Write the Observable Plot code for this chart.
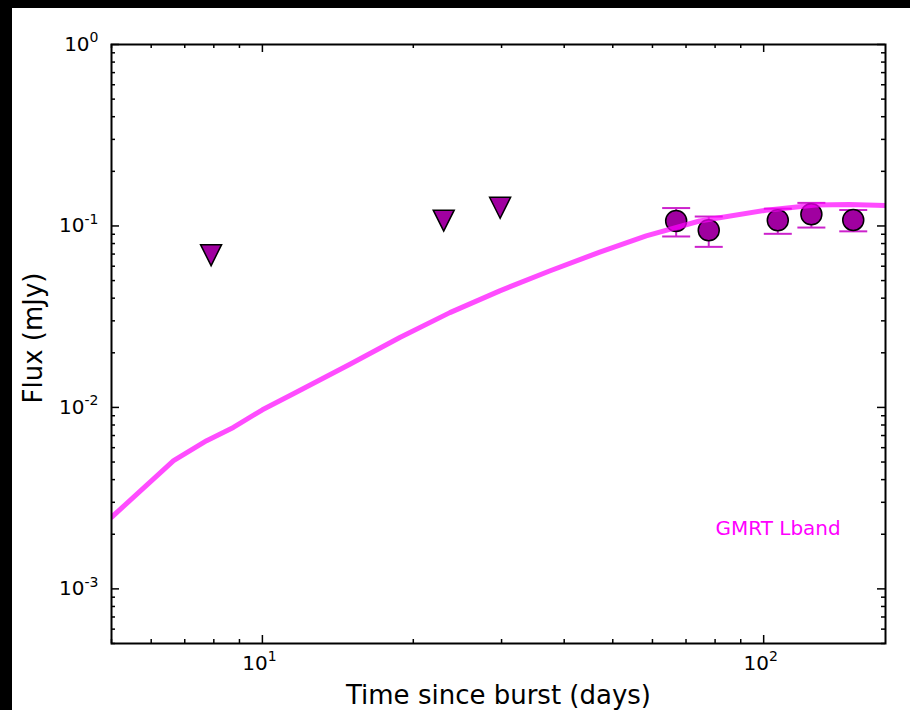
<!DOCTYPE html>
<html><head><meta charset="utf-8">
<script src="https://cdn.jsdelivr.net/npm/d3@7"></script>
<script src="https://cdn.jsdelivr.net/npm/@observablehq/plot@0.6"></script>
<style>
html,body{margin:0;padding:0;background:#000;width:910px;height:710px;overflow:hidden}
#chart{position:absolute;left:12px;top:8px;width:898px;height:702px;background:#fff}
svg{font-family:"DejaVu Sans",sans-serif}
</style></head><body><div id="chart"></div>
<script>
// Model light curve (GMRT L band)
const modelTime = [5, 6.65, 7.74, 8.75, 10, 11.53, 14.95, 18.8, 23.66, 29.76, 37.4, 47.1, 58.3, 74.5, 101, 127, 148, 175];
const modelFlux = [0.00248, 0.00509, 0.00656, 0.00776, 0.0097, 0.0119, 0.0173, 0.0243, 0.0333, 0.0439, 0.0565, 0.0718, 0.0881, 0.1065, 0.122, 0.1305, 0.1315, 0.1298];
// Detections
const detTime = [66.9, 77.7, 106.7, 124.5, 150.9];
const detFlux = [0.1065, 0.0947, 0.1075, 0.116, 0.1079];
const detErr  = [0.019, 0.018, 0.017, 0.018, 0.0145];
// Upper limits
const limTime = [7.9, 23, 29.8];
const limFlux = [0.069, 0.107, 0.126];
// Ticks
const xMajor = [10, 100];
const xMinor = [5, 6, 7, 8, 9, 20, 30, 40, 50, 60, 70, 80, 90];
const yMajor = [1, 0.1, 0.01, 0.001];
const yMinor = [0.0005, 0.0006, 0.0007, 0.0008, 0.0009,
  0.002, 0.003, 0.004, 0.005, 0.006, 0.007, 0.008, 0.009,
  0.02, 0.03, 0.04, 0.05, 0.06, 0.07, 0.08, 0.09,
  0.2, 0.3, 0.4, 0.5, 0.6, 0.7, 0.8, 0.9];
const labelText = "GMRT Lband";
const xTitle = "Time since burst (days)";
const yTitle = "Flux (mJy)";

const model = modelTime.map((t, i) => ({t, f: modelFlux[i]}));
const det = detTime.map((t, i) => ({t, f: detFlux[i], lo: detFlux[i] - detErr[i], hi: detFlux[i] + detErr[i]}));
const lim = limTime.map((t, i) => ({t, f: limFlux[i]}));

const W = 898, H = 702, mL = 99, mR = 25, mT = 36, mB = 67;
const iw = W - mL - mR, ih = H - mT - mB;

const triDown = {draw(ctx, size) { const s = Math.sqrt(size / Math.PI); ctx.moveTo(0, s); ctx.lineTo(-s, -s); ctx.lineTo(s, -s); ctx.closePath(); }};
const hbar = {draw(ctx, size) { const s = Math.sqrt(size / Math.PI); ctx.moveTo(-s, 0); ctx.lineTo(s, 0); }};

const errColor = "#cc22cc";
const fillColor = "#a000a0";

const svg = Plot.plot({
  width: W, height: H,
  marginLeft: mL, marginRight: mR, marginTop: mT, marginBottom: mB,
  style: {fontFamily: "'DejaVu Sans', sans-serif", background: "white", color: "black"},
  x: {type: "log", domain: [5, 175], axis: null},
  y: {type: "log", domain: [0.0005, 1], axis: null},
  marks: [
    Plot.ruleX(det, {x: "t", y1: "lo", y2: "hi", stroke: errColor, strokeWidth: 2}),
    Plot.dot(det, {x: "t", y: "lo", symbol: hbar, r: 14, stroke: errColor, strokeWidth: 2, fill: "none"}),
    Plot.dot(det, {x: "t", y: "hi", symbol: hbar, r: 14, stroke: errColor, strokeWidth: 2, fill: "none"}),
    Plot.dot(det, {x: "t", y: "f", r: 10.5, fill: fillColor, stroke: "black", strokeWidth: 1.5}),
    Plot.dot(lim, {x: "t", y: "f", symbol: triDown, r: 10.5, fill: fillColor, stroke: "black", strokeWidth: 1.5}),
    Plot.line(model, {x: "t", y: "f", stroke: "#ff00ff", strokeOpacity: 0.7, strokeWidth: 5, clip: true}),
    Plot.frame({stroke: "black", strokeWidth: 2}),
    // bottom ticks
    Plot.tickX(xMajor, {x: d => d, insetTop: ih - 8, stroke: "black", strokeWidth: 1.5}),
    Plot.tickX(xMinor, {x: d => d, insetTop: ih - 4, stroke: "black", strokeWidth: 1.5}),
    // top ticks
    Plot.tickX(xMajor, {x: d => d, insetBottom: ih - 8, stroke: "black", strokeWidth: 1.5}),
    Plot.tickX(xMinor, {x: d => d, insetBottom: ih - 4, stroke: "black", strokeWidth: 1.5}),
    // left ticks
    Plot.tickY(yMajor, {y: d => d, insetRight: iw - 8, stroke: "black", strokeWidth: 1.5}),
    Plot.tickY(yMinor, {y: d => d, insetRight: iw - 4, stroke: "black", strokeWidth: 1.5}),
    // right ticks
    Plot.tickY(yMajor, {y: d => d, insetLeft: iw - 8, stroke: "black", strokeWidth: 1.5}),
    Plot.tickY(yMinor, {y: d => d, insetLeft: iw - 4, stroke: "black", strokeWidth: 1.5}),
    // tick labels
    Plot.text(xMajor, {x: d => d, text: d => "10^" + Math.round(Math.log10(d)), frameAnchor: "bottom", dy: 20, dx: -3, textAnchor: "middle", lineAnchor: "middle", fontSize: 20, fill: "black"}),
    Plot.text(yMajor, {y: d => d, text: d => "10^" + Math.round(Math.log10(d)), frameAnchor: "left", dx: -13, textAnchor: "end", lineAnchor: "middle", fontSize: 20, fill: "black"}),
    // axis titles
    Plot.text([xTitle], {frameAnchor: "bottom", dy: 52, textAnchor: "middle", lineAnchor: "middle", fontSize: 26, fill: "black"}),
    Plot.text([yTitle], {frameAnchor: "left", rotate: -90, dx: -77.6, dy: -6, textAnchor: "middle", lineAnchor: "middle", fontSize: 26, fill: "black"}),
    // series label
    Plot.text([labelText], {frameAnchor: "bottom-left", dx: 604, dy: -115.4, textAnchor: "start", lineAnchor: "middle", fontSize: 20, fill: "#ff00ff"})
  ]
});

d3.select(svg).selectAll("text").each(function() {
  const m = this.textContent.match(/^10\^(.+)$/);
  if (m) {
    this.textContent = "10";
    d3.select(this).append("tspan").attr("font-size", 14).attr("dy", -8.5).text(m[1]);
  }
});

document.getElementById("chart").appendChild(svg);
</script>
</body></html>
